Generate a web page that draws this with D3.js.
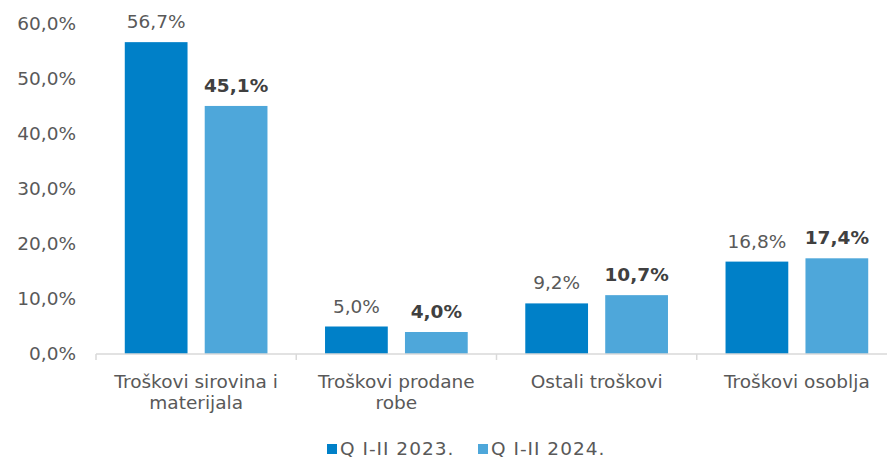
<!DOCTYPE html>
<html>
<head>
<meta charset="utf-8">
<script src="https://cdn.jsdelivr.net/npm/d3@7"></script>
<style>
  body { margin: 0; background: #fff; }
  svg text { font-family: "DejaVu Sans", Verdana, sans-serif; }
</style>
</head>
<body>
<div id="chart"></div>
<script>
var categories = [["Troškovi sirovina i", "materijala"], ["Troškovi prodane", "robe"], ["Ostali troškovi"], ["Troškovi osoblja"]];
var seriesNames = ["Q I-II 2023.", "Q I-II 2024."];
var values2023 = [56.7, 5.0, 9.2, 16.8];
var values2024 = [45.1, 4.0, 10.7, 17.4];
var yTicks = [0, 10, 20, 30, 40, 50, 60];
var colors = ["#0080C8", "#4EA7DA"];

var width = 887, height = 458;
var margin = {top: 24, left: 96, bottom: 104, right: -10};
var fontSize = "18.5px";

var svg = d3.select("#chart").append("svg")
    .attr("width", width)
    .attr("height", height);

var fmt = function (v) { return v.toFixed(1).replace(".", ",") + "%"; };

var x0 = d3.scaleBand()
    .domain(d3.range(categories.length))
    .range([margin.left, width - margin.right]);

var x1 = d3.scaleBand()
    .domain([0, 1])
    .range([0, x0.bandwidth()])
    .paddingInner(0.215)
    .paddingOuter(0.36);

var y = d3.scaleLinear()
    .domain([0, 60])
    .range([height - margin.bottom, margin.top]);

// y axis labels (no line)
var yAxis = d3.axisLeft(y).tickValues(yTicks).tickSize(0).tickPadding(20)
    .tickFormat(function (d) { return fmt(d); });
var gy = svg.append("g")
    .attr("transform", "translate(" + margin.left + ",0)")
    .call(yAxis);
gy.select(".domain").remove();
gy.selectAll("text").attr("fill", "#595959").style("font-size", fontSize)
    .style("font-family", '"DejaVu Sans", Verdana, sans-serif');

// bars
var series = [values2023, values2024];
series.forEach(function (vals, s) {
    var g = svg.append("g");
    g.selectAll("rect")
        .data(vals)
        .enter().append("rect")
        .attr("x", function (d, i) { return x0(i) + x1(s); })
        .attr("y", function (d) { return y(d); })
        .attr("width", x1.bandwidth())
        .attr("height", function (d) { return y(0) - y(d); })
        .attr("fill", colors[s]);

    g.selectAll("text")
        .data(vals)
        .enter().append("text")
        .attr("x", function (d, i) { return x0(i) + x1(s) + x1.bandwidth() / 2; })
        .attr("y", function (d) { return y(d) - 14; })
        .attr("text-anchor", "middle")
        .attr("fill", s === 0 ? "#595959" : "#404040")
        .style("font-size", fontSize)
        .style("font-weight", s === 0 ? "normal" : "bold")
        .text(function (d) { return fmt(d); });
});

// x axis
var gx = svg.append("g")
    .attr("transform", "translate(0," + y(0) + ")");
gx.append("line")
    .attr("x1", margin.left).attr("x2", width - margin.right)
    .attr("stroke", "#d9d9d9").attr("stroke-width", 1.5);
gx.selectAll(".tick")
    .data(d3.range(categories.length + 1))
    .enter().append("line")
    .attr("x1", function (d) { return margin.left + d * x0.step(); })
    .attr("x2", function (d) { return margin.left + d * x0.step(); })
    .attr("y1", 0).attr("y2", 6)
    .attr("stroke", "#d9d9d9").attr("stroke-width", 1.5);

var labels = gx.selectAll(".cat")
    .data(categories)
    .enter().append("text")
    .attr("class", "cat")
    .attr("text-anchor", "middle")
    .attr("fill", "#595959")
    .style("font-size", fontSize)
    .attr("transform", function (d, i) { return "translate(" + (x0(i) + x0.bandwidth() / 2) + ",34)"; });
labels.selectAll("tspan")
    .data(function (d) { return d; })
    .enter().append("tspan")
    .attr("x", 0)
    .attr("dy", function (d, i) { return i === 0 ? 0 : 21; })
    .text(function (d) { return d; });

// legend
var legend = svg.append("g").attr("transform", "translate(327,455)");
var lx = [0, 151];
seriesNames.forEach(function (name, i) {
    legend.append("rect")
        .attr("x", lx[i]).attr("y", -11)
        .attr("width", 10).attr("height", 10)
        .attr("fill", colors[i]);
    legend.append("text")
        .attr("x", lx[i] + 13).attr("y", 0)
        .attr("fill", "#595959")
        .style("font-size", fontSize)
        .style("letter-spacing", "1px")
        .text(name);
});
</script>
</body>
</html>
